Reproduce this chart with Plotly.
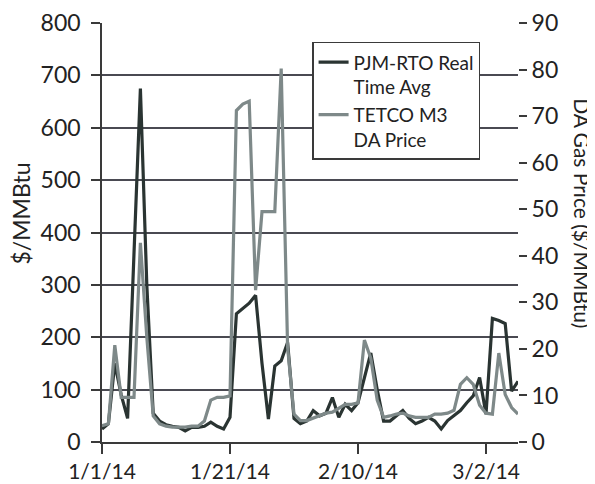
import plotly.graph_objects as go
import pandas as pd

dates = pd.date_range("2014-01-01", "2014-03-07", freq="D")

pjm_rt = [25, 35, 150, 90, 45, 360, 675, 300, 55, 40,
          33, 30, 28, 21, 28, 28, 30, 38, 30, 25,
          47, 245, 255, 265, 280, 150, 44, 145, 155, 190,
          45, 35, 40, 60, 50, 55, 85, 47, 72, 60,
          75, 120, 170, 100, 40, 40, 50, 60, 45, 35,
          40, 47, 40, 25, 41, 50, 60, 75, 88, 123,
          53, 236, 232, 226, 97, 116]

tetco_gas = [3.5, 3.9, 20.8, 9.6, 9.6, 9.6, 42.8, 22.5, 5.6, 3.9,
             3.4, 3.2, 3.2, 3.2, 3.4, 3.4, 4.5, 9.0, 9.6, 9.6,
             9.9, 71.2, 72.6, 73.2, 32.6, 49.5, 49.5, 49.5, 80.2, 20.3,
             6.0, 4.6, 4.6, 5.1, 5.6, 6.2, 6.4, 7.3, 8.1, 8.1,
             8.4, 21.9, 18.0, 9.0, 5.3, 5.6, 6.0, 6.2, 5.6, 5.3,
             5.3, 5.3, 6.0, 6.0, 6.2, 6.8, 12.4, 13.8, 12.4, 7.9,
             6.2, 6.0, 19.1, 10.2, 7.4, 6.0]

left_ticks = [0, 100, 200, 300, 400, 500, 600, 700, 800]
right_ticks = [0, 10, 20, 30, 40, 50, 60, 70, 80, 90]

FONT = "Lato"
DARK = "#2a3432"
GRAY = "#7e8989"
AX = "#3a3a3a"

fig = go.Figure()
fig.add_trace(go.Scatter(x=dates, y=pjm_rt, mode="lines",
                         name="PJM-RTO Real<br>Time Avg",
                         line=dict(color=DARK, width=3.2)))
fig.add_trace(go.Scatter(x=dates, y=tetco_gas, mode="lines",
                         name="TETCO M3<br>DA Price", yaxis="y2",
                         line=dict(color=GRAY, width=3.2)))

fig.update_layout(
    width=587, height=476,
    margin=dict(l=94, r=77, t=15, b=42),
    paper_bgcolor="white", plot_bgcolor="white",
    font=dict(family=FONT, size=24, color="#222"),
    showlegend=True,
    legend=dict(x=0.505, y=0.955, xanchor="left", yanchor="top",
                bgcolor="white", bordercolor=AX, borderwidth=1.5,
                font=dict(size=19, color="#222"), itemwidth=30,
                valign="top", tracegroupgap=0),
    xaxis=dict(type="date", range=["2014-01-01", "2014-03-07"],
               tick0="2014-01-01", dtick=20 * 86400000,
               tickformat="%-m/%-d/%y", ticks="outside", ticklen=10,
               tickcolor=AX, tickwidth=1.5, showgrid=False,
               showline=True, linecolor=AX, linewidth=1.5,
               tickfont=dict(size=21), automargin=False,
               ticklabelstandoff=0, ticklabeloverflow="allow"),
    yaxis=dict(range=[0, 800], tickvals=left_ticks, ticks="outside",
               ticklen=9, tickcolor=AX, tickwidth=1.5,
               showgrid=True, gridcolor="#4a4a52", gridwidth=1.5,
               showline=True, linecolor=AX, linewidth=1.5,
               zeroline=False, tickfont=dict(size=23), automargin=False,
               ticklabelstandoff=6, ticklabeloverflow="allow"),
    yaxis2=dict(range=[0, 90], tickvals=right_ticks, overlaying="y",
                side="right", ticks="outside", ticklen=8, tickcolor=AX,
                tickwidth=1.5, showgrid=False, showline=False,
                zeroline=False, tickfont=dict(size=23), automargin=False,
                ticklabeloverflow="allow"),
    annotations=[
        dict(text="$/MMBtu", xref="paper", yref="paper", x=-0.195, y=0.545,
             textangle=-90, showarrow=False, font=dict(size=23),
             xanchor="center", yanchor="middle"),
        dict(text="DA Gas Price ($/MMBtu)", xref="paper", yref="paper",
             x=1.155, y=0.545, textangle=90, showarrow=False,
             font=dict(size=21), xanchor="center", yanchor="middle"),
    ],
)

fig.write_html("out.html")
